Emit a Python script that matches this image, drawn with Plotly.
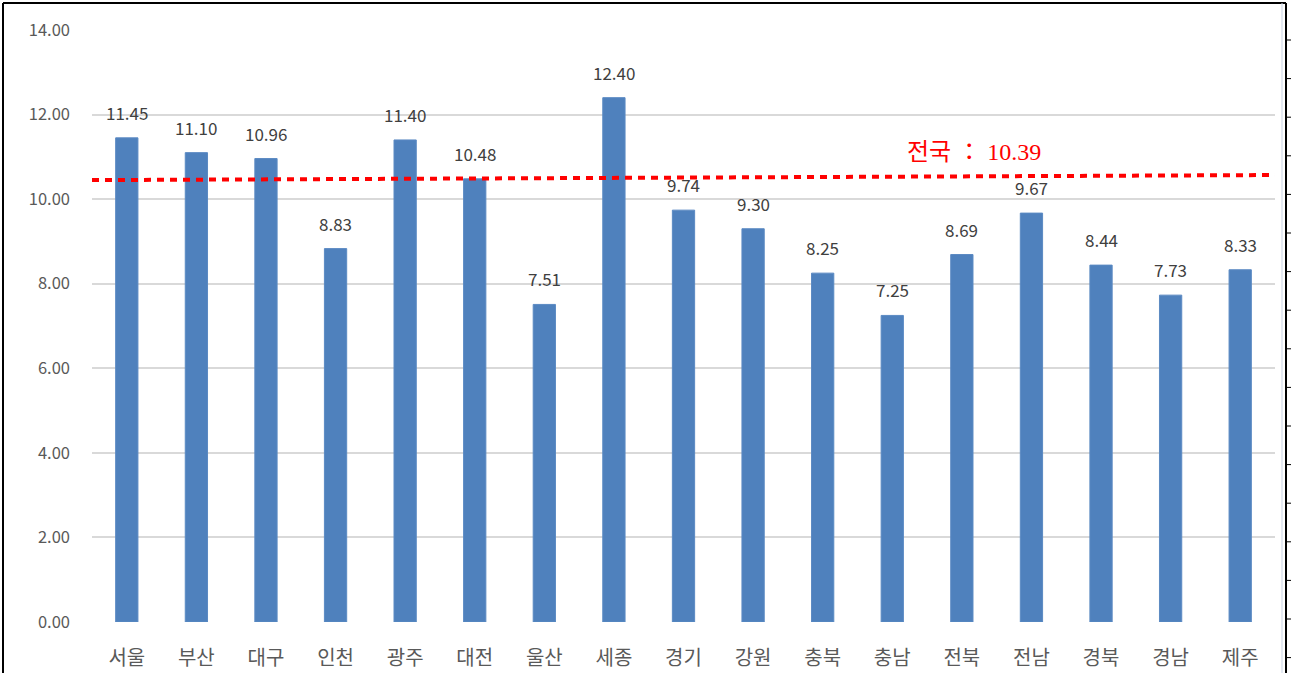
import plotly.graph_objects as go

regions = ["서울", "부산", "대구", "인천", "광주", "대전", "울산", "세종", "경기",
           "강원", "충북", "충남", "전북", "전남", "경북", "경남", "제주"]
values = [11.45, 11.10, 10.96, 8.83, 11.40, 10.48, 7.51, 12.40, 9.74,
          9.30, 8.25, 7.25, 8.69, 9.67, 8.44, 7.73, 8.33]
national_value = 10.39
national_line_x = [-0.5, 16.5]
national_line_y = [10.45, 10.57]
y_ticks = [0, 2, 4, 6, 8, 10, 12, 14]

W, H = 1292, 673
ML, MR, MT, MB = 92, 17, 30, 51
PW, PH = W - ML - MR, H - MT - MB

def px_x(p):
    return (p - ML) / PW

def px_y(p):
    return (H - MB - p) / PH

fig = go.Figure()
fig.add_trace(go.Bar(
    x=list(range(len(regions))), y=values,
    marker=dict(color="#4F81BD", line=dict(color="#5B8AC3", width=1)),
    width=0.32, hoverinfo="skip",
))
fig.add_trace(go.Scatter(
    x=national_line_x, y=national_line_y, mode="lines",
    line=dict(color="#FF0000", width=4, dash="7px,6px"),
    hoverinfo="skip",
))

annotations = []
for i, v in enumerate(values):
    annotations.append(dict(
        x=i, y=v, xref="x", yref="y", text=f"{v:.2f}", showarrow=False,
        yanchor="bottom", yshift=11,
        font=dict(family="Noto Sans CJK KR, Noto Sans", size=17, color="#404040"),
    ))
annotations.append(dict(
    x=12.17, y=11.11, xref="x", yref="y", text=f"전국 ： {national_value:.2f}",
    showarrow=False, xanchor="center", yanchor="middle",
    font=dict(family="Liberation Serif, Noto Sans CJK KR", size=24, color="#FF0000"),
))

shapes = [
    dict(type="line", xref="paper", yref="paper", x0=px_x(3), x1=px_x(3),
         y0=px_y(3), y1=px_y(700), line=dict(color="#000000", width=2)),
    dict(type="line", xref="paper", yref="paper", x0=px_x(3), x1=px_x(1286),
         y0=px_y(3), y1=px_y(3), line=dict(color="#000000", width=2)),
    dict(type="line", xref="paper", yref="paper", x0=px_x(1282), x1=px_x(1282),
         y0=px_y(3), y1=px_y(700), line=dict(color="#C9D3E3", width=1)),
    dict(type="line", xref="paper", yref="paper", x0=px_x(1286), x1=px_x(1286),
         y0=px_y(3), y1=px_y(700), line=dict(color="#000000", width=2)),
]
yy = 40.0
while yy < 670:
    shapes.append(dict(type="line", xref="paper", yref="paper",
                       x0=px_x(1287), x1=px_x(1291), y0=px_y(yy), y1=px_y(yy),
                       line=dict(color="#000000", width=1)))
    yy += 38.6

fig.update_layout(
    width=W, height=H,
    margin=dict(l=ML, r=MR, t=MT, b=MB, autoexpand=False),
    paper_bgcolor="white", plot_bgcolor="white",
    showlegend=False,
    bargap=0.68,
    annotations=annotations,
    shapes=shapes,
    xaxis=dict(
        tickmode="array", tickvals=list(range(len(regions))), ticktext=regions,
        range=[-0.5, len(regions) - 0.5], showgrid=False, zeroline=False,
        showline=False, ticks="", ticklabelstandoff=22, automargin=False,
        tickfont=dict(family="Noto Sans CJK KR", size=20, color="#595959"),
    ),
    yaxis=dict(
        range=[0, 14], tickmode="array", tickvals=y_ticks,
        ticktext=[f"{t:.2f}" for t in y_ticks],
        showgrid=True, gridcolor="#D9D9D9", gridwidth=1.5, automargin=False,
        zeroline=False, showline=False, ticks="", ticklabelstandoff=21,
        tickfont=dict(family="Noto Sans CJK KR", size=16.5, color="#595959"),
    ),
)

fig.write_html(
    "out.html",
    config={"displayModeBar": False, "responsive": False},
    post_script="document.body.style.margin='0';document.body.style.overflow='hidden';",
)
